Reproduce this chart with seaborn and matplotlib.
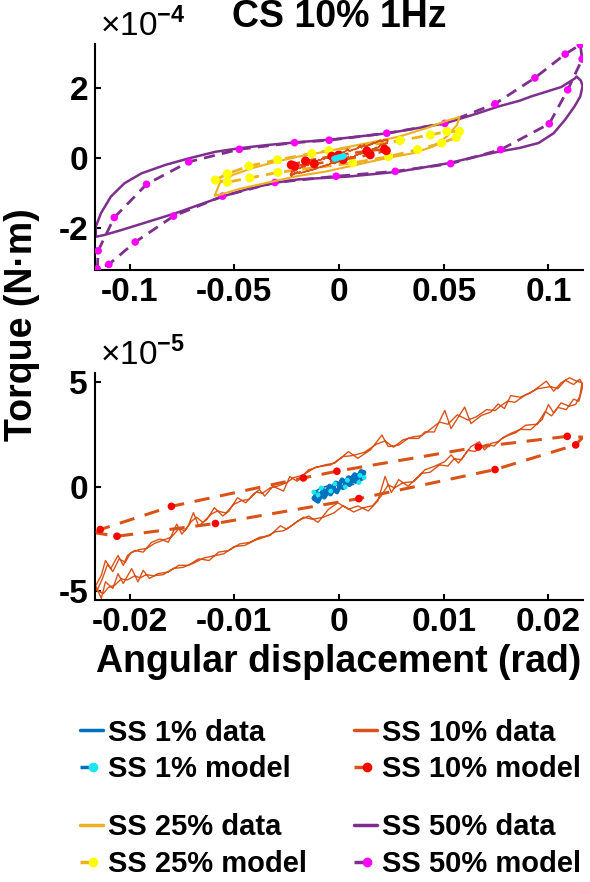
import numpy as np
import matplotlib
matplotlib.use("Agg")
import matplotlib.pyplot as plt
import seaborn as sns
from matplotlib.lines import Line2D
from matplotlib.legend_handler import HandlerBase
from matplotlib.ticker import FuncFormatter

# ---------------- data (x in rad, torque in scaled units) ----------------
# SS 50% (torque x1e-4 N.m)
ss50_data_x = [-0.1161, -0.1137, -0.1089, -0.1024, -0.0944, -0.0831, -0.0718, -0.0589, -0.0476, -0.0347,
               -0.0202, -0.0035, 0.0235, 0.0505, 0.0663, 0.0759, 0.0863, 0.0917, 0.1061, 0.1125, 0.1134,
               0.1155, 0.1163, 0.1152, 0.1125, 0.1080, 0.1025, 0.0953, 0.0863, 0.0759, 0.0663, 0.0520,
               0.0283, 0.0044, -0.0194, -0.0298, -0.0427, -0.0556, -0.0669, -0.0782, -0.0911, -0.1040,
               -0.1121, -0.1161, -0.1161]
ss50_data_y = [-1.97, -1.59, -1.11, -0.73, -0.45, -0.21, -0.02, 0.17, 0.27, 0.36,
               0.44, 0.52, 0.70, 0.98, 1.27, 1.46, 1.63, 1.75, 2.02, 2.26, 2.32,
               2.20, 2.05, 1.75, 1.47, 1.09, 0.70, 0.42, 0.28, 0.17, 0.04, -0.16,
               -0.40, -0.54, -0.62, -0.71, -0.88, -1.11, -1.35, -1.59, -1.83, -2.07,
               -2.21, -2.26, -1.97]
ss50_model_x = [-0.1154, -0.1150, -0.1073, -0.0919, -0.0718, -0.0476, -0.0212, -0.0047, 0.0228, 0.0505,
                0.0745, 0.0935, 0.1080, 0.1152, 0.1161, 0.1092, 0.1004, 0.0772, 0.0533, 0.0269,
                -0.0014, -0.0306, -0.0556, -0.0790, -0.0973, -0.1099, -0.1154]
ss50_model_y = [-3.18, -2.66, -1.71, -0.76, -0.12, 0.24, 0.43, 0.50, 0.70, 0.98,
                1.54, 2.28, 2.96, 3.23, 2.82, 1.94, 0.97, 0.23, -0.17, -0.39,
                -0.53, -0.71, -1.10, -1.67, -2.41, -3.05, -3.18]

# SS 25% (torque x1e-4 N.m)
ss25_data_x = [-0.0593, -0.0569, -0.0506, -0.0410, -0.0297, -0.0187, -0.0059, 0.0053, 0.0180, 0.0292,
               0.0420, 0.0516, 0.0575, 0.0564, 0.0516, 0.0450, 0.0355, 0.0230, 0.0085, -0.0059,
               -0.0202, -0.0346, -0.0474, -0.0569, -0.0593]
ss25_data_y = [-1.08, -0.72, -0.49, -0.29, -0.11, 0.04, 0.18, 0.32, 0.47, 0.61,
               0.85, 1.06, 1.16, 0.94, 0.61, 0.32, 0.13, -0.01, -0.20, -0.39,
               -0.53, -0.72, -0.89, -1.06, -1.08]
ss25_model_x = [-0.0590, -0.0533, -0.0430, -0.0293, -0.0130, -0.0048, 0.0292, 0.0436, 0.0515, 0.0575,
                0.0560, 0.0490, 0.0375, 0.0236, 0.0065, -0.0292, -0.0426, -0.0533, -0.0590]
ss25_model_y = [-0.64, -0.46, -0.24, -0.06, 0.12, 0.20, 0.49, 0.65, 0.75, 0.75,
                0.58, 0.42, 0.23, 0.03, -0.15, -0.42, -0.58, -0.70, -0.64]

# SS 10% (torque x1e-5 N.m), two overlaid cycles
ss10_data_x = [
    -0.0232, -0.0227, -0.0223, -0.0218, -0.0211, -0.0206, -0.0202, -0.0195, -0.0187, -0.0179,
    -0.0171, -0.0163, -0.0155, -0.0150, -0.0144, -0.0139, -0.0134, -0.0126, -0.0119, -0.0111,
    -0.0105, -0.0097, -0.0089, -0.0082, -0.0076, -0.0071, -0.0063, -0.0053, -0.0047, -0.0040,
    -0.0029, -0.0013, -0.0004, 0.0009, 0.0018, 0.0030, 0.0041, 0.0047, 0.0057, 0.0066,
    0.0076, 0.0082, 0.0091, 0.0101, 0.0107, 0.0120, 0.0126, 0.0136, 0.0145, 0.0152,
    0.0158, 0.0164, 0.0173, 0.0183, 0.0198, 0.0205, 0.0212, 0.0220, 0.0227, 0.0232,
    0.0230, 0.0226, 0.0220, 0.0212, 0.0205, 0.0200, 0.0194, 0.0183, 0.0173, 0.0164,
    0.0158, 0.0152, 0.0145, 0.0139, 0.0134, 0.0126, 0.0120, 0.0114, 0.0107, 0.0101,
    0.0091, 0.0082, 0.0076, 0.0066, 0.0057, 0.0050, 0.0044, 0.0037, 0.0028, 0.0018,
    0.0009, -0.0001, -0.0010, -0.0020, -0.0029, -0.0039, -0.0050, -0.0056, -0.0066, -0.0076,
    -0.0085, -0.0095, -0.0105, -0.0115, -0.0124, -0.0134, -0.0144, -0.0153, -0.0163, -0.0173,
    -0.0181, -0.0187, -0.0192, -0.0198, -0.0206, -0.0211, -0.0216, -0.0223, -0.0227, -0.0232,
    -0.0231, -0.0226, -0.0221, -0.0216, -0.0210, -0.0204, -0.0199, -0.0191, -0.0184, -0.0176,
    -0.0168, -0.0160, -0.0153, -0.0147, -0.0141, -0.0136, -0.0130, -0.0122, -0.0116, -0.0108,
    -0.0101, -0.0093, -0.0086, -0.0079, -0.0073, -0.0066, -0.0058, -0.0050, -0.0043, -0.0035,
    -0.0022, -0.0008, 0.0004, 0.0013, 0.0024, 0.0036, 0.0044, 0.0052, 0.0061, 0.0071,
    0.0079, 0.0087, 0.0096, 0.0104, 0.0113, 0.0123, 0.0131, 0.0141, 0.0149, 0.0155,
    0.0161, 0.0168, 0.0178, 0.0190, 0.0202, 0.0209, 0.0216, 0.0224, 0.0230, 0.0233,
    0.0229, 0.0224, 0.0217, 0.0209, 0.0203, 0.0197, 0.0189, 0.0178, 0.0169, 0.0161,
    0.0155, 0.0148, 0.0142, 0.0137, 0.0130, 0.0123, 0.0117, 0.0110, 0.0104, 0.0096,
    0.0087, 0.0079, 0.0071, 0.0061, 0.0053, 0.0047, 0.0040, 0.0032, 0.0023, 0.0014,
    0.0004, -0.0005, -0.0015, -0.0025, -0.0034, -0.0045, -0.0053, -0.0061, -0.0071, -0.0080,
    -0.0090, -0.0100, -0.0110, -0.0120, -0.0129, -0.0139, -0.0149, -0.0158, -0.0168, -0.0177,
    -0.0184, -0.0190, -0.0195, -0.0202, -0.0208, -0.0214, -0.0220, -0.0225, -0.0231]
ss10_data_y = [
    -4.70, -4.23, -3.52, -3.91, -3.28, -3.75, -3.28, -3.04, -3.12, -2.65,
    -2.49, -2.65, -1.78, -2.26, -1.86, -1.23, -1.86, -1.55, -0.99, -1.39,
    -1.15, -0.52, -0.76, -0.36, -0.13, -0.44, 0.03, -0.20, 0.50, 0.27,
    0.82, 1.06, 1.14, 1.69, 1.37, 1.77, 2.48, 1.93, 2.00, 2.32,
    2.32, 2.63, 2.63, 3.66, 2.79, 3.82, 3.03, 3.42, 3.58, 3.97,
    3.75, 4.37, 4.29, 4.50, 5.06, 4.58, 4.98, 5.22, 5.06, 4.98,
    4.34, 3.95, 3.86, 4.02, 3.54, 3.94, 3.22, 2.74, 2.75, 2.56,
    2.40, 2.16, 2.08, 1.77, 2.16, 1.93, 1.53, 1.14, 1.53, 1.21,
    0.98, 0.82, 0.50, 0.03, 0.35, -0.27, 0.50, -0.68, -1.15, -0.91,
    -1.07, -0.76, -1.07, -1.70, -1.39, -1.62, -2.02, -1.86, -2.33, -2.41,
    -2.65, -2.73, -3.04, -3.12, -3.52, -3.44, -3.75, -3.75, -4.07, -4.15,
    -4.38, -3.99, -4.54, -3.91, -4.62, -4.15, -4.86, -4.54, -5.33, -4.78,
    -4.95, -4.40, -3.70, -4.05, -3.45, -3.60, -3.15, -3.00, -2.95, -2.70,
    -2.55, -2.40, -2.00, -2.10, -1.65, -1.45, -1.70, -1.30, -1.15, -1.25,
    -0.85, -0.65, -0.60, -0.25, -0.30, -0.05, 0.05, 0.20, 0.45, 0.55,
    0.95, 1.05, 1.45, 1.50, 1.65, 2.05, 2.20, 1.90, 2.25, 2.40,
    2.45, 2.75, 3.10, 3.00, 3.45, 3.20, 3.35, 3.70, 3.65, 3.90,
    4.10, 4.05, 4.40, 4.70, 4.80, 4.70, 5.10, 4.90, 5.15, 4.85,
    4.10, 4.20, 3.70, 3.80, 3.40, 3.60, 3.00, 2.95, 2.60, 2.45,
    2.30, 1.95, 2.05, 1.95, 1.70, 1.75, 1.30, 1.35, 1.00, 1.05,
    0.70, 0.65, 0.25, 0.20, -0.05, 0.10, -0.45, -0.90, -1.00, -1.20,
    -0.90, -1.25, -1.45, -1.55, -1.45, -1.85, -2.10, -2.15, -2.40, -2.55,
    -2.80, -2.85, -3.20, -3.30, -3.40, -3.65, -3.85, -3.90, -4.20, -4.25,
    -4.20, -4.35, -4.25, -4.45, -4.40, -4.70, -4.80, -5.10, -4.95]
ss10_model_line_x = [-0.0232, -0.0228, -0.0160, -0.0034, -0.0002, 0.0133, 0.0218, 0.0233,
                     0.0226, 0.0149, 0.0019, -0.0118, -0.0212, -0.0232]
ss10_model_line_y = [-2.20, -2.04, -0.93, 0.43, 0.75, 1.91, 2.42, 2.38,
                     2.01, 0.83, -0.56, -1.75, -2.36, -2.20]
ss10_model_dot_x = [-0.0228, -0.0160, -0.0034, -0.0002, 0.0133, 0.0218,
                    0.0226, 0.0149, 0.0019, -0.0118, -0.0212]
ss10_model_dot_y = [-2.04, -0.93, 0.43, 0.75, 1.91, 2.42,
                    2.01, 0.83, -0.56, -1.75, -2.36]

# SS 1% (torque x1e-5 N.m)
ss1_data_x = [-0.0024, -0.0021, -0.0018, -0.0015, -0.0012, -0.0009, -0.0006, -0.0003, 0.0000, 0.0003,
              0.0006, 0.0009, 0.0012, 0.0015, 0.0018, 0.0021, 0.0024,
              0.0022, 0.0019, 0.0016, 0.0013, 0.0010, 0.0007, 0.0004, 0.0001, -0.0002, -0.0005,
              -0.0008, -0.0011, -0.0014, -0.0017, -0.0020, -0.0023, -0.0024]
ss1_data_y = [-0.55, -0.30, -0.40, -0.15, -0.25, 0.05, -0.05, 0.20, 0.10, 0.35,
              0.20, 0.45, 0.40, 0.60, 0.45, 0.75, 0.70,
              0.40, 0.55, 0.25, 0.35, 0.10, 0.20, -0.05, 0.05, -0.25, -0.10,
              -0.35, -0.25, -0.50, -0.40, -0.70, -0.60, -0.55]
ss1_model_x = [-0.0024, -0.0017, -0.0004, 0.0008, 0.0020, 0.0024, 0.0019, 0.0006, -0.0008, -0.0020, -0.0024]
ss1_model_y = [-0.25, -0.05, 0.15, 0.32, 0.55, 0.45, 0.21, 0.00, -0.20, -0.38, -0.25]

# ---------------- style ----------------
C_SS1, C_SS1M = "#0072BD", "#1AE6F5"
C_SS10, C_SS10M = "#D95319", "#FF0000"
C_SS25, C_SS25M = "#EDB120", "#FFFF00"
C_SS50, C_SS50M = "#7E2F8E", "#FF00FF"

sns.set_theme(style="ticks")
plt.rcParams["font.family"] = ["Liberation Sans", "DejaVu Sans"]
plt.rcParams["font.weight"] = "bold"
plt.rcParams["mathtext.fontset"] = "custom"
plt.rcParams["mathtext.rm"] = "Liberation Sans"
plt.rcParams["axes.unicode_minus"] = False
for k in ("text.color", "axes.labelcolor", "xtick.color", "ytick.color", "axes.edgecolor"):
    plt.rcParams[k] = "black"

fig = plt.figure(figsize=(5.9, 8.82), dpi=100)
ax1 = fig.add_axes([95 / 590, 1 - 270 / 882, 488 / 590, 226 / 882])
ax2 = fig.add_axes([95 / 590, 1 - 600 / 882, 488 / 590, 227 / 882])


def draw_data(ax, x, y, scale, color, lw, z):
    sns.lineplot(x=np.array(x), y=np.array(y) * scale, sort=False, estimator=None,
                 color=color, lw=lw, ax=ax, zorder=z, legend=False)


def draw_model(ax, lx, ly, mx, my, scale, lcolor, mcolor, lw, ms, z, dash=(4.0, 2.6)):
    sns.lineplot(x=np.array(lx), y=np.array(ly) * scale, sort=False, estimator=None,
                 color=lcolor, lw=lw, ax=ax, zorder=z, legend=False)
    ax.lines[-1].set_linestyle((0, dash))
    sns.scatterplot(x=np.array(mx), y=np.array(my) * scale, color=mcolor, s=ms ** 2,
                    edgecolor="none", linewidth=0, ax=ax, zorder=z + 0.5, legend=False)


# top panel
draw_data(ax1, ss50_data_x, ss50_data_y, 1e-4, C_SS50, 1.8, 2)
draw_model(ax1, ss50_model_x, ss50_model_y, ss50_model_x[:-1], ss50_model_y[:-1], 1e-4,
           C_SS50, C_SS50M, 2.0, 5.5, 3)
draw_data(ax1, ss25_data_x, ss25_data_y, 1e-4, C_SS25, 1.5, 4)
draw_model(ax1, ss25_model_x, ss25_model_y, ss25_model_x[:-1], ss25_model_y[:-1], 1e-4,
           C_SS25, C_SS25M, 2.0, 6.5, 5)
draw_data(ax1, ss10_data_x, ss10_data_y, 1e-5, C_SS10, 1.0, 6)
draw_model(ax1, ss10_model_line_x, ss10_model_line_y, ss10_model_dot_x, ss10_model_dot_y, 1e-5,
           C_SS10, C_SS10M, 1.8, 6.5, 7)
draw_data(ax1, ss1_data_x, ss1_data_y, 1e-5, C_SS1, 1.5, 8)
draw_model(ax1, ss1_model_x, ss1_model_y, ss1_model_x[:-1], ss1_model_y[:-1], 1e-5,
           C_SS1, C_SS1M, 1.0, 4.0, 9)

# bottom panel
draw_data(ax2, ss10_data_x, ss10_data_y, 1e-5, C_SS10, 1.0, 2)
draw_model(ax2, ss10_model_line_x, ss10_model_line_y, ss10_model_dot_x, ss10_model_dot_y, 1e-5,
           C_SS10, C_SS10M, 2.2, 5.5, 3, dash=(5.0, 3.5))
draw_data(ax2, ss1_data_x, ss1_data_y, 1e-5, C_SS1, 3.2, 4)
draw_model(ax2, ss1_model_x, ss1_model_y, ss1_model_x[:-1], ss1_model_y[:-1], 1e-5,
           C_SS1, C_SS1M, 1.2, 3.5, 5)

# axes formatting
ax1.set_xlim(-0.1165, 0.1165)
ax1.set_ylim(-3.21e-4, 3.25e-4)
ax1.set_xticks([-0.1, -0.05, 0, 0.05, 0.1])
ax1.set_yticks([-2e-4, 0, 2e-4])
ax1.yaxis.set_major_formatter(FuncFormatter(lambda v, p: "%g" % round(v / 1e-4, 6)))

ax2.set_xlim(-0.0233, 0.0233)
ax2.set_ylim(-5.41e-5, 5.45e-5)
ax2.set_xticks([-0.02, -0.01, 0, 0.01, 0.02])
ax2.set_yticks([-5e-5, 0, 5e-5])
ax2.yaxis.set_major_formatter(FuncFormatter(lambda v, p: "%g" % round(v / 1e-5, 6)))

for ax, expo in ((ax1, "-4"), (ax2, "-5")):
    ax.xaxis.set_major_formatter(FuncFormatter(lambda v, p: "%g" % round(v, 6)))
    ax.set_xlabel("")
    ax.set_ylabel("")
    sns.despine(ax=ax)
    for s in ("left", "bottom"):
        ax.spines[s].set_linewidth(1.5)
        ax.spines[s].set_color("black")
    ax.tick_params(direction="in", length=4, width=1.5, labelsize=24, pad=5, colors="black")
    for lab in ax.get_xticklabels() + ax.get_yticklabels():
        lab.set_fontweight("bold")
    ax.text(0.01, 1.035, r"×10$^{" + expo + "}$", transform=ax.transAxes, fontsize=24,
            fontweight="normal", ha="left", va="baseline")

ax1.set_title("CS 10% 1Hz", fontsize=27, fontweight="bold", pad=12)
ax2.set_xlabel("Angular displacement (rad)", fontsize=27, fontweight="bold", labelpad=4)
fig.text(22 / 590, 1 - 325 / 882, "Torque (N·m)", rotation=90, ha="center", va="center",
         fontsize=27, fontweight="bold")


# legend
class ModelHandler(HandlerBase):
    def create_artists(self, legend, orig_handle, xdescent, ydescent, width, height, fontsize, trans):
        yc = height / 2 - ydescent
        x0 = -xdescent
        seg = Line2D([x0, x0 + 0.42 * width], [yc, yc], color=orig_handle.get_color(),
                     lw=orig_handle.get_linewidth(), solid_capstyle="butt")
        dot = Line2D([x0 + 0.55 * width], [yc], marker="o", ms=orig_handle.get_markersize(),
                     color=orig_handle.get_markerfacecolor(), mec="none", ls="none")
        seg.set_transform(trans)
        dot.set_transform(trans)
        return [seg, dot]


def add_legend(labels, lcolor, mcolor, x_px, y_px):
    h_data = Line2D([], [], color=lcolor, lw=2.5)
    h_model = Line2D([], [], color=lcolor, lw=2.5, marker="o", markerfacecolor=mcolor, ms=7)
    leg = fig.legend(handles=[h_data, h_model], labels=labels, loc="center left",
                     bbox_to_anchor=(x_px / 590, 1 - y_px / 882), frameon=False,
                     prop={"weight": "bold", "size": 21}, handlelength=0.8, handletextpad=0.15,
                     labelspacing=0.3, borderpad=0, borderaxespad=0,
                     handler_map={h_model: ModelHandler()})
    return leg


add_legend(["SS 1% data", "SS 1% model"], C_SS1, C_SS1M, 80, 751)
add_legend(["SS 10% data", "SS 10% model"], C_SS10, C_SS10M, 354, 751)
add_legend(["SS 25% data", "SS 25% model"], C_SS25, C_SS25M, 80, 845.5)
add_legend(["SS 50% data", "SS 50% model"], C_SS50, C_SS50M, 354, 845.5)

fig.savefig("out.png", dpi=100)
